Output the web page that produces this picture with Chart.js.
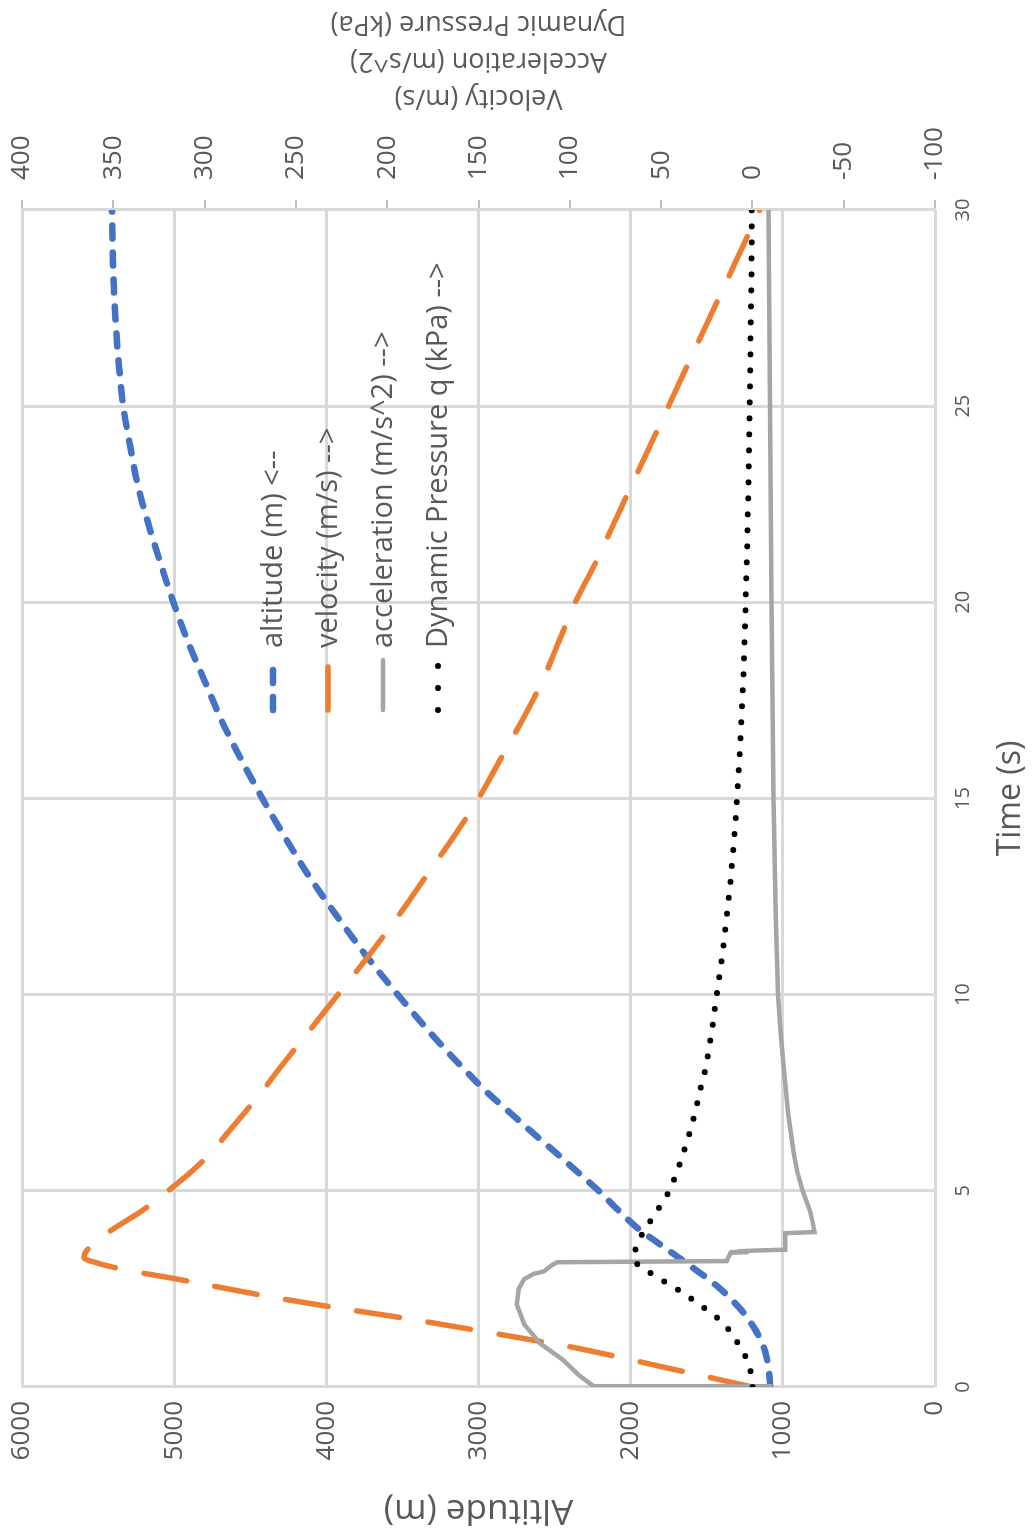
<!DOCTYPE html>
<html>
<head>
<meta charset="utf-8">
<script src="https://cdn.jsdelivr.net/npm/chart.js@4.4.1/dist/chart.umd.min.js"></script>
<style>
  html, body { margin: 0; padding: 0; background: #ffffff; width: 1032px; height: 1531px; overflow: hidden; }
  /* the chart is laid out landscape and turned a quarter turn counter-clockwise */
  #wrap { position: absolute; left: 0; top: 0; width: 1531px; height: 1032px;
          transform-origin: 0 0; transform: translate(0px, 1531px) rotate(-90deg); }
  canvas { display: block; }
</style>
</head>
<body>
<div id="wrap"><canvas id="flight" width="1531" height="1032"></canvas></div>
<script>
// ---- flight data ----
const timeS = [0, 0.25, 0.5, 0.75, 1, 1.25, 1.5, 1.75, 2, 2.25, 2.5, 2.75, 3, 3.15, 3.3, 3.45, 3.6, 3.8, 4, 4.5,
  5, 5.5, 6, 6.5, 7, 7.5, 8, 9, 10, 11, 12, 13, 14, 15, 16, 17, 18, 19, 20, 21, 22, 23, 24, 25, 26, 27, 28, 29, 30];

const altitudeM = [1084, 1087, 1094, 1106, 1124, 1152, 1187, 1231, 1282, 1343, 1411, 1490, 1577, 1630, 1685, 1740, 1795, 1867, 1939, 2080,
  2210, 2355, 2500, 2650, 2795, 2940, 3070, 3310, 3530, 3740, 3930, 4110, 4270, 4420, 4560, 4690, 4800, 4910, 5005, 5090, 5170, 5240, 5290, 5335, 5362, 5382, 5396, 5404, 5408];

const velocityMs = [0, 24, 48, 72, 97, 127, 158, 190, 225, 258, 287, 315, 345, 358, 366, 365, 362, 357, 351, 334,
  320, 307, 296, 287, 278, 269, 261, 244, 227, 210, 194, 179, 164, 150, 138, 126, 115, 106, 97, 86, 76, 66, 56, 46, 36, 26, 16, 6, -4];

const dynPressureKPa = [0, 0.5, 1.6, 3.6, 6.3, 9.8, 13.7, 19, 26, 33.5, 41.5, 50.5, 59, 63.5, 65, 64.5, 63, 61.5, 59, 52,
  45.5, 41.2, 37.5, 34.3, 31.3, 29, 26.2, 22.5, 19.5, 16.5, 14, 11.8, 10, 8.4, 7.1, 6, 5, 4.3, 3.7, 3.1, 2.6, 2.2, 1.8, 1.5, 1.2, 0.9, 0.6, 0.4, 0.3];

const accelTimeS = [0, 0.02, 0.3, 0.7, 1.1, 1.6, 2.1, 2.5, 2.75, 2.88, 2.95, 3.1, 3.18, 3.21, 3.42, 3.44, 3.46, 3.48, 3.5, 3.92,
  3.95, 4.2, 4.5, 5, 5.5, 6, 7, 8, 9, 10, 12, 15, 20, 25, 30];
const accelMs2 = [-9.8, 87, 95, 104, 116, 125, 129, 128, 125, 120, 114, 110, 107, 14, 12, 2, 8, -3, -18, -18,
  -34, -33, -31.5, -27.5, -24.5, -22.5, -19.5, -17.5, -15.5, -14, -12.8, -11.5, -10.5, -9.6, -8.8];

const seriesLabels = ['altitude (m) <--', 'velocity (m/s) -->', 'acceleration (m/s^2) -->', 'Dynamic Pressure q (kPa) -->'];
const rightTitleLines = ['Velocity (m/s)', 'Acceleration (m/s^2)', 'Dynamic Pressure (kPa)'];

const timeTicks = { min: 0, max: 30, step: 5 };
const altitudeTicks = { min: 0, max: 6000, step: 1000 };
const rightTicks = { min: -100, max: 400, step: 50 };

// ---- styling ----
const FONT = "'Open Sans', sans-serif";
const TEXT = '#595959';
const GRID = '#d9d9d9';
Chart.defaults.font.family = FONT;
Chart.defaults.color = TEXT;

const pts = (xs, ys) => xs.map((x, i) => ({ x, y: ys[i] }));

// keep the plot box fixed: no extra room for labels overhanging the ends
function fixBox(size, key) {
  return s => {
    s[key] = size;
    s.paddingTop = 0; s.paddingBottom = 0; s.paddingLeft = 0; s.paddingRight = 0;
  };
}

// legend drawn inside the plot, one row per series
const innerLegend = {
  id: 'innerLegend',
  afterDatasetsDraw(chart) {
    const { ctx, chartArea } = chart;
    ctx.save();
    chart.data.datasets.forEach((ds, i) => {
      const y = chartArea.top + 251 + i * 55;
      const x0 = chartArea.left + 677;
      const x1 = x0 + 50;
      ctx.beginPath();
      ctx.setLineDash(ds.legendDash || ds.borderDash || []);
      ctx.lineCap = 'round';
      ctx.lineWidth = ds.borderWidth;
      ctx.strokeStyle = ds.borderColor;
      ctx.moveTo(x0, y);
      ctx.lineTo(x1, y);
      ctx.stroke();
      ctx.setLineDash([]);
      ctx.fillStyle = TEXT;
      ctx.font = '29px ' + FONT;
      ctx.textAlign = 'left';
      ctx.textBaseline = 'middle';
      ctx.fillText(ds.label, x1 + 12, y + 1);
    });
    ctx.restore();
  },
  afterDraw(chart) {
    // secondary axis title, three lines reading upward like the primary one
    const { ctx, chartArea } = chart;
    const cy = (chartArea.top + chartArea.bottom) / 2;
    const offsets = [112, 149, 186];
    ctx.save();
    ctx.fillStyle = TEXT;
    ctx.font = '27px ' + FONT;
    ctx.textAlign = 'center';
    ctx.textBaseline = 'middle';
    rightTitleLines.forEach((line, i) => {
      ctx.save();
      ctx.translate(chartArea.right + offsets[i], cy);
      ctx.rotate(-Math.PI / 2);
      ctx.fillText(line, 0, 0);
      ctx.restore();
    });
    ctx.restore();
  }
};

new Chart(document.getElementById('flight'), {
  type: 'line',
  data: {
    datasets: [
      { label: seriesLabels[0], data: pts(timeS, altitudeM), yAxisID: 'yAlt',
        borderColor: '#4472C4', borderWidth: 6.5, borderDash: [13, 14], borderCapStyle: 'round',
        cubicInterpolationMode: 'monotone', pointRadius: 0, order: 4 },
      { label: seriesLabels[1], data: pts(timeS, velocityMs), yAxisID: 'yRight',
        borderColor: '#ED7D31', borderWidth: 5.5, borderDash: [43, 29], borderCapStyle: 'round',
        cubicInterpolationMode: 'monotone', pointRadius: 0, order: 3 },
      { label: seriesLabels[2], data: pts(accelTimeS, accelMs2), yAxisID: 'yRight',
        borderColor: '#A5A5A5', borderWidth: 4.5, tension: 0, pointRadius: 0, order: 2 },
      { label: seriesLabels[3], data: pts(timeS, dynPressureKPa), yAxisID: 'yRight',
        borderColor: '#000000', borderWidth: 6, borderDash: [0, 16], legendDash: [0, 22], borderCapStyle: 'round',
        cubicInterpolationMode: 'monotone', pointRadius: 0, order: 1 }
    ]
  },
  options: {
    responsive: false,
    animation: false,
    devicePixelRatio: 1,
    layout: { padding: { top: 22, left: 0, right: 0, bottom: 0 } },
    plugins: { legend: { display: false }, tooltip: { enabled: false } },
    scales: {
      x: {
        type: 'linear', position: 'bottom',
        min: timeTicks.min, max: timeTicks.max,
        ticks: { stepSize: timeTicks.step, font: { size: 20 }, color: TEXT, padding: 16,
                 callback: v => String(v) },
        grid: { color: GRID, lineWidth: 3, drawTicks: false },
        border: { display: false },
        title: { display: true, text: 'Time (s)', font: { size: 32 }, color: TEXT, padding: { top: 0, bottom: 2 } },
        afterFit: fixBox(97, 'height')
      },
      yAlt: {
        type: 'linear', position: 'left',
        min: altitudeTicks.min, max: altitudeTicks.max,
        ticks: { stepSize: altitudeTicks.step, font: { size: 26 }, color: TEXT, padding: 14,
                 callback: v => String(v) },
        grid: { color: GRID, lineWidth: 3, drawTicks: false },
        border: { display: false },
        title: { display: true, text: 'Altitude (m)', font: { size: 35 }, color: TEXT, padding: { top: 0, bottom: 0 } },
        afterFit: fixBox(144, 'width')
      },
      yRight: {
        type: 'linear', position: 'right',
        min: rightTicks.min, max: rightTicks.max,
        ticks: { stepSize: rightTicks.step, font: { size: 26 }, color: TEXT, padding: 20,
                 callback: v => String(v) },
        grid: { drawOnChartArea: false, drawTicks: true, tickLength: 10, tickColor: '#bfbfbf', lineWidth: 2 },
        border: { display: true, color: GRID, width: 3 },
        afterFit: fixBox(210, 'width')
      }
    }
  },
  plugins: [innerLegend]
});
</script>
</body>
</html>
